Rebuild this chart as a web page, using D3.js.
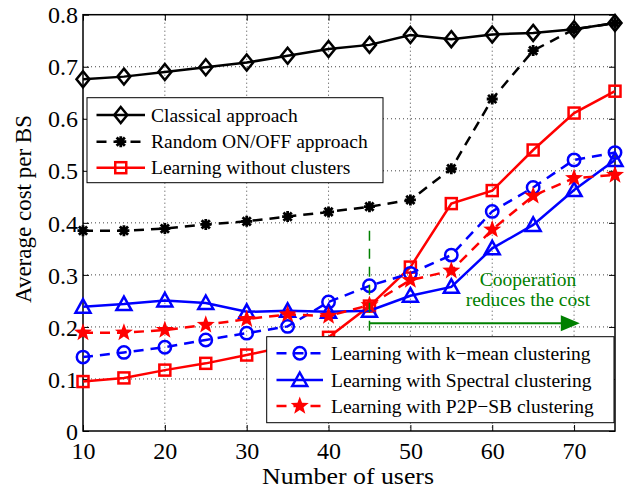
<!DOCTYPE html>
<html>
<head>
<meta charset="utf-8">
<script src="https://cdn.jsdelivr.net/npm/d3@7"></script>
<style>
  html, body { margin: 0; padding: 0; background: #fff; }
  svg { display: block; }
  text { font-family: "Liberation Serif", "Times New Roman", Times, serif; fill: #000; }
</style>
</head>
<body>
<svg id="chart" width="631" height="490"></svg>
<script>
// Number of users on the x axis
const users = [10, 15, 20, 25, 30, 35, 40, 45, 50, 55, 60, 65, 70, 75];

// Average cost per BS for each scheme
const classical  = [0.676, 0.681, 0.690, 0.699, 0.708, 0.721, 0.734, 0.742, 0.761, 0.753, 0.762, 0.765, 0.772, 0.784];
const randomOnOff = [0.385, 0.385, 0.389, 0.397, 0.403, 0.412, 0.421, 0.431, 0.444, 0.504, 0.638, 0.731, 0.772, 0.784];
const noClusters = [0.095, 0.102, 0.117, 0.130, 0.146, 0.163, 0.180, 0.240, 0.315, 0.437, 0.462, 0.540, 0.611, 0.653];
const kMean      = [0.142, 0.151, 0.161, 0.175, 0.188, 0.201, 0.248, 0.279, 0.303, 0.338, 0.422, 0.468, 0.521, 0.535];
const spectral   = [0.239, 0.244, 0.251, 0.246, 0.229, 0.231, 0.229, 0.231, 0.260, 0.277, 0.351, 0.396, 0.463, 0.521];
const p2pSB      = [0.189, 0.189, 0.194, 0.204, 0.215, 0.224, 0.221, 0.242, 0.290, 0.308, 0.387, 0.452, 0.486, 0.492];

const xTicks = [10, 20, 30, 40, 50, 60, 70];
const yTicks = [0, 0.1, 0.2, 0.3, 0.4, 0.5, 0.6, 0.7, 0.8];

const legendTop = ["Classical approach", "Random ON/OFF approach", "Learning without clusters"];
const legendBottom = ["Learning with k\u2212mean clustering", "Learning with Spectral clustering", "Learning with P2P\u2212SB clustering"];

// Annotation: threshold user count and arrow
const coopX = 45;
const coopArrow = { y: 0.207, xEnd: 70.7 };
const coopText = ["Cooperation", "reduces the cost"];

const svg = d3.select("#chart");
const plotL = 83, plotR = 615, plotT = 14.7, plotB = 431;

const x = d3.scaleLinear().domain([10, 75]).range([plotL, plotR]);
const y = d3.scaleLinear().domain([0, 0.8]).range([plotB, plotT]);

// Grid
const grid = svg.append("g");
grid.selectAll(".gx").data(xTicks.filter(d => d > 10)).enter().append("line")
  .attr("x1", d => x(d)).attr("x2", d => x(d)).attr("y1", plotT).attr("y2", plotB)
  .attr("stroke", "#444").attr("stroke-width", 1).attr("stroke-dasharray", "1,3");
grid.selectAll(".gy").data(yTicks.filter(d => d > 0 && d < 0.8)).enter().append("line")
  .attr("x1", plotL).attr("x2", plotR).attr("y1", d => y(d)).attr("y2", d => y(d))
  .attr("stroke", "#444").attr("stroke-width", 1).attr("stroke-dasharray", "1,3");

// Axes with inward ticks on all four sides
const tickLen = 6;
const fontTick = 24;
const axB = svg.append("g").attr("transform", `translate(0,${plotB})`)
  .call(d3.axisBottom(x).tickValues(xTicks).tickSize(-tickLen).tickPadding(12).tickFormat(d3.format("d")));
const axT = svg.append("g").attr("transform", `translate(0,${plotT})`)
  .call(d3.axisTop(x).tickValues(xTicks).tickSize(-tickLen).tickFormat(""));
const axL = svg.append("g").attr("transform", `translate(${plotL},0)`)
  .call(d3.axisLeft(y).tickValues(yTicks).tickSize(-tickLen).tickPadding(6).tickFormat(d => d === 0 ? "0" : d3.format(".1f")(d)));
const axR = svg.append("g").attr("transform", `translate(${plotR},0)`)
  .call(d3.axisRight(y).tickValues(yTicks).tickSize(-tickLen).tickFormat(""));
[axB, axT, axL, axR].forEach(a => {
  a.attr("font-family", null);
  a.select(".domain").remove();
  a.selectAll(".tick line").attr("stroke", "#000").attr("stroke-width", 1);
  a.selectAll("text").attr("font-size", fontTick).attr("fill", "#000");
});
axB.selectAll("text").attr("dy", "0.71em").attr("y", 11);
axL.selectAll("text").attr("dy", "0.34em").attr("x", -5);
svg.append("rect").attr("x", plotL).attr("y", plotT).attr("width", plotR - plotL).attr("height", plotB - plotT)
  .attr("fill", "none").attr("stroke", "#000").attr("stroke-width", 1.5);

// Axis titles
svg.append("text").attr("x", 348).attr("y", 484).attr("text-anchor", "middle")
  .attr("font-size", 24).attr("textLength", 172).attr("lengthAdjust", "spacingAndGlyphs").text("Number of users");
svg.append("text").attr("transform", "translate(31,209) rotate(-90)").attr("text-anchor", "middle")
  .attr("font-size", 23).attr("textLength", 188).attr("lengthAdjust", "spacingAndGlyphs").text("Average cost per BS");

// Marker painters
function diamond(g, cx, cy) {
  g.append("path").attr("d", `M${cx},${cy-8}L${cx+6.5},${cy}L${cx},${cy+8}L${cx-6.5},${cy}Z`)
    .attr("fill", "none").attr("stroke", "#000").attr("stroke-width", 2.5);
}
function asterisk(g, cx, cy) {
  const r = 5.5, d = r * 0.75;
  g.append("path").attr("d", `M${cx-r},${cy}L${cx+r},${cy}M${cx},${cy-r}L${cx},${cy+r}M${cx-d},${cy-d}L${cx+d},${cy+d}M${cx-d},${cy+d}L${cx+d},${cy-d}`)
    .attr("stroke", "#000").attr("stroke-width", 2.8).attr("fill", "none");
}
function square(g, cx, cy) {
  g.append("rect").attr("x", cx - 5.5).attr("y", cy - 5.5).attr("width", 11).attr("height", 11)
    .attr("fill", "none").attr("stroke", "#f00").attr("stroke-width", 2.5);
}
function circle(g, cx, cy) {
  g.append("circle").attr("cx", cx).attr("cy", cy).attr("r", 6.2)
    .attr("fill", "none").attr("stroke", "#00f").attr("stroke-width", 2.5);
}
function triangle(g, cx, cy) {
  g.append("path").attr("d", `M${cx},${cy-7.5}L${cx+7.5},${cy+6}L${cx-7.5},${cy+6}Z`)
    .attr("fill", "none").attr("stroke", "#00f").attr("stroke-width", 2.5).attr("stroke-linejoin", "miter");
}
function star(g, cx, cy) {
  const pts = [];
  for (let i = 0; i < 10; i++) {
    const r = i % 2 === 0 ? 9.5 : 3.9;
    const a = -Math.PI / 2 + i * Math.PI / 5;
    pts.push([cx + r * Math.cos(a), cy + r * Math.sin(a)]);
  }
  g.append("path").attr("d", "M" + pts.map(p => p.join(",")).join("L") + "Z").attr("fill", "#f00").attr("stroke", "none");
}

const series = [
  { values: classical,  color: "#000", dash: null,   marker: diamond },
  { values: randomOnOff, color: "#000", dash: "10,7", marker: asterisk },
  { values: noClusters, color: "#f00", dash: null,   marker: square },
  { values: kMean,      color: "#00f", dash: "10,7", marker: circle },
  { values: spectral,   color: "#00f", dash: null,   marker: triangle },
  { values: p2pSB,      color: "#f00", dash: "10,7", marker: star }
];

const line = d3.line().x(d => x(d[0])).y(d => y(d[1]));
const plot = svg.append("g");
series.forEach(s => {
  const g = plot.append("g");
  const pts = users.map((u, i) => [u, s.values[i]]);
  g.append("path").attr("d", line(pts)).attr("fill", "none").attr("stroke", s.color)
    .attr("stroke-width", 2.5).attr("stroke-dasharray", s.dash);
  pts.forEach(p => s.marker(g, x(p[0]), y(p[1])));
});

// Cooperation annotation
const green = "#008000";
svg.append("line").attr("x1", x(coopX)).attr("x2", x(coopX)).attr("y1", y(0.385)).attr("y2", y(0.18))
  .attr("stroke", green).attr("stroke-width", 1.5).attr("stroke-dasharray", "10,8");
svg.append("line").attr("x1", x(coopX)).attr("x2", x(coopArrow.xEnd) - 16).attr("y1", y(coopArrow.y)).attr("y2", y(coopArrow.y))
  .attr("stroke", green).attr("stroke-width", 2);
const tipX = x(coopArrow.xEnd), tipY = y(coopArrow.y);
svg.append("path").attr("d", `M${tipX},${tipY}L${tipX-19},${tipY-8}L${tipX-19},${tipY+8}Z`).attr("fill", green);
svg.append("text").attr("x", 528).attr("y", 286).attr("text-anchor", "middle").attr("font-size", 19.5)
  .style("fill", green).text(coopText[0]);
svg.append("text").attr("x", 528).attr("y", 306).attr("text-anchor", "middle").attr("font-size", 19.5)
  .style("fill", green).text(coopText[1]);

// Legends
function legend(box, rows, entries, sampleX0, sampleX1, textX, items) {
  const g = svg.append("g");
  g.append("rect").attr("x", box[0]).attr("y", box[1]).attr("width", box[2] - box[0]).attr("height", box[3] - box[1])
    .attr("fill", "#fff").attr("stroke", "#000").attr("stroke-width", 1);
  items.forEach((s, i) => {
    const yy = rows[i];
    g.append("line").attr("x1", sampleX0).attr("x2", sampleX1).attr("y1", yy).attr("y2", yy)
      .attr("stroke", s.color).attr("stroke-width", 2.5).attr("stroke-dasharray", s.dash);
    s.marker(g, (sampleX0 + sampleX1) / 2, yy);
    g.append("text").attr("x", textX).attr("y", yy + 6.5).attr("font-size", 19.5).text(entries[i]);
  });
}
legend([87, 97.7, 383, 182.7], [115, 141.7, 167.7], legendTop, 96.5, 145, 151, series.slice(0, 3));
legend([266.7, 336.7, 614, 422.7], [353.3, 380, 406], legendBottom, 276.5, 323, 331, series.slice(3));
</script>
</body>
</html>
